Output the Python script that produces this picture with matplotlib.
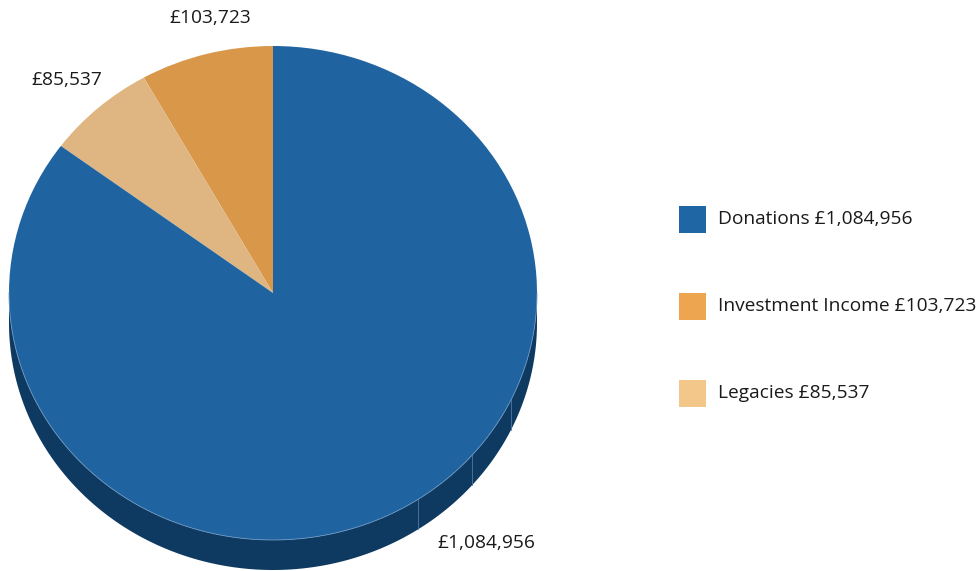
import numpy as np
import matplotlib.pyplot as plt
from matplotlib.patches import Polygon, Rectangle

# Income sources (counter-clockwise from 12 o'clock)
categories = ["Investment Income", "Legacies", "Donations"]
values = [103723, 85537, 1084956]
top_colors = ["#D9974A", "#DFB682", "#1F63A0"]
legend_colors = {"Donations": "#1F66A5",
                 "Investment Income": "#EDA64F",
                 "Legacies": "#F3C78A"}
legend_order = ["Donations", "Investment Income", "Legacies"]
side_color = "#0E3A62"

W, H = 979, 571
CX, CY = 273, 293      # pie centre in pixels
RX, RY = 264, 247      # ellipse radii in pixels
DEPTH = 30             # thickness of the pie edge in pixels
FS = 13.8

plt.rcParams['font.family'] = ['Open Sans', 'DejaVu Sans']

fig = plt.figure(figsize=(W / 100, H / 100), dpi=100)
ax = fig.add_axes([0, 0, 1, 1])


def fx(px):
    return px / W


def fy(py):
    return 1 - py / H


# pie edge (front half only)
d = DEPTH / RY
t = np.linspace(np.pi, 2 * np.pi, 300)
upper = np.column_stack([np.cos(t), np.sin(t)])
lower = np.column_stack([np.cos(t[::-1]), np.sin(t[::-1]) - d])
ax.add_patch(Polygon(np.vstack([upper, lower]), closed=True,
                     facecolor=side_color, edgecolor='none', zorder=1))
# faint facet seams on the edge
for a in np.radians([-25.6, -41.0, -56.7]):
    ax.plot([np.cos(a)] * 2, [np.sin(a), np.sin(a) - d],
            color="#4F79A3", lw=0.6, zorder=2)

wedges, _ = ax.pie(values, colors=top_colors, startangle=90,
                   counterclock=True, radius=1, frame=True,
                   wedgeprops=dict(linewidth=0, zorder=3))
# unit circle maps to the ellipse on screen
ax.set_aspect('auto')
ax.set_xlim(-CX / RX, (W - CX) / RX)
ax.set_ylim((CY - H) / RY, CY / RY)
ax.axis('off')

# light rim along the front of the top face
ax.plot(upper[:, 0], upper[:, 1], color="#6A95C0", lw=0.6, zorder=4)

# value labels
val = dict(zip(categories, values))
txt = dict(fontsize=FS, color="#1a1a1a", va='center')
fig.text(fx(210), fy(18), f"£{val['Investment Income']:,}", ha='center', **txt)
fig.text(fx(67), fy(80), f"£{val['Legacies']:,}", ha='center', **txt)
fig.text(fx(486), fy(543), f"£{val['Donations']:,}", ha='center', **txt)

# legend
for i, name in enumerate(legend_order):
    yc = 219 + i * 87
    fig.patches.append(Rectangle((fx(679), fy(yc + 13.5)), 27 / W, 27 / H,
                                 transform=fig.transFigure, figure=fig,
                                 facecolor=legend_colors[name], edgecolor='none'))
    fig.text(fx(718), fy(yc), f"{name} £{val[name]:,}", ha='left', **txt)

fig.savefig("out.png", dpi=100)
